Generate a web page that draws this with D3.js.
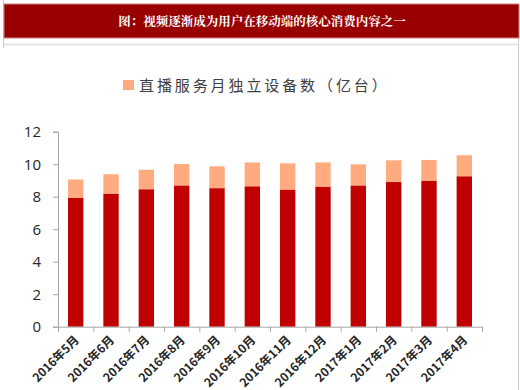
<!DOCTYPE html>
<html><head><meta charset="utf-8">
<script src="https://cdn.jsdelivr.net/npm/d3@7"></script>
<style>body{margin:0;background:#fff;}svg{display:block;}</style>
</head><body>
<script>
const title = "图：视频逐渐成为用户在移动端的核心消费内容之一";
const legendLabel = "直播服务月独立设备数（亿台）";
const categories = ["2016年5月","2016年6月","2016年7月","2016年8月","2016年9月","2016年10月","2016年11月","2016年12月","2017年1月","2017年2月","2017年3月","2017年4月"];
const lowerValues = [7.92, 8.17, 8.45, 8.68, 8.52, 8.63, 8.42, 8.60, 8.68, 8.90, 8.97, 9.25];
const totalValues = [9.06, 9.38, 9.66, 10.01, 9.87, 10.11, 10.05, 10.11, 9.99, 10.24, 10.26, 10.55];
const yTicks = [0, 2, 4, 6, 8, 10, 12];

const W = 520, H = 390;
const svg = d3.select("body").append("svg").attr("width", W).attr("height", H);

// frame lines
svg.append("line").attr("x1",3.5).attr("x2",3.5).attr("y1",0).attr("y2",48).attr("stroke","#c8c8c8");
svg.append("line").attr("x1",518.5).attr("x2",518.5).attr("y1",38).attr("y2",390).attr("stroke","#c8c8c8");
svg.append("line").attr("x1",4).attr("x2",520).attr("y1",44.5).attr("y2",44.5).attr("stroke","#e6e6e6").attr("stroke-width",2);

// title bar
svg.append("rect").attr("x",4).attr("y",4).attr("width",515).attr("height",34)
  .attr("fill","#990000").attr("stroke","#d08080").attr("stroke-width",1);
svg.append("text").attr("x",262).attr("y",26).attr("text-anchor","middle")
  .attr("fill","#fff").attr("font-size",12.5).attr("font-weight","bold")
  .attr("font-family","'Noto Serif CJK SC','Noto Sans CJK SC',serif")
  .text(title);

// legend
svg.append("rect").attr("x",123).attr("y",80).attr("width",11).attr("height",10).attr("fill","#ffaa7f");
svg.append("text").attr("x",139).attr("y",91).attr("fill","#404040").attr("font-size",15)
  .attr("letter-spacing",2.9)
  .attr("font-family","'Noto Sans CJK SC',sans-serif").text(legendLabel);

const x0 = 58, x1 = 482, yTop = 131.7, yBot = 326.7;
const x = d3.scaleBand().domain(categories).range([x0, x1]).paddingInner(0.565).paddingOuter(0.283);
const y = d3.scaleLinear().domain([0, 12]).range([yBot, yTop]);

// bars
const g = svg.append("g");
g.selectAll(".top").data(categories).enter().append("rect")
  .attr("x", d => x(d)).attr("width", x.bandwidth())
  .attr("y", (d,i) => y(totalValues[i])).attr("height", (d,i) => y(lowerValues[i]) - y(totalValues[i]))
  .attr("fill","#ffaa7f");
g.selectAll(".low").data(categories).enter().append("rect")
  .attr("x", d => x(d)).attr("width", x.bandwidth())
  .attr("y", (d,i) => y(lowerValues[i])).attr("height", (d,i) => y(0) - y(lowerValues[i]))
  .attr("fill","#c00000");

// y axis
const yAxis = svg.append("g").attr("transform",`translate(${x0},0)`)
  .call(d3.axisLeft(y).tickValues(yTicks).tickSize(5).tickPadding(12).tickFormat(d3.format("d")));
yAxis.select(".domain").attr("stroke","#a6a6a6");
yAxis.selectAll(".tick line").attr("stroke","#a6a6a6");
yAxis.selectAll("text").attr("fill","#262626").attr("font-size",15)
  .attr("font-family","'Open Sans','Liberation Sans',sans-serif");

// x axis
const xAxis = svg.append("g").attr("transform",`translate(0,${yBot})`);
xAxis.append("line").attr("x1",x0).attr("x2",x1).attr("y1",0.5).attr("y2",0.5).attr("stroke","#a6a6a6");
xAxis.selectAll(".xt").data(d3.range(categories.length+1)).enter().append("line")
  .attr("x1", i => x0 + i*(x1-x0)/categories.length + 0.5)
  .attr("x2", i => x0 + i*(x1-x0)/categories.length + 0.5)
  .attr("y1",0).attr("y2",5).attr("stroke","#a6a6a6");
xAxis.selectAll(".xl").data(categories).enter().append("text")
  .attr("transform", d => `translate(${x(d) + x.bandwidth()/2 + 4},${14}) rotate(-45)`)
  .attr("text-anchor","end").attr("fill","#262626").attr("font-size",12).attr("font-weight","bold")
  .attr("font-family","'Noto Sans CJK SC',sans-serif")
  .text(d => d);
</script>
</body></html>
